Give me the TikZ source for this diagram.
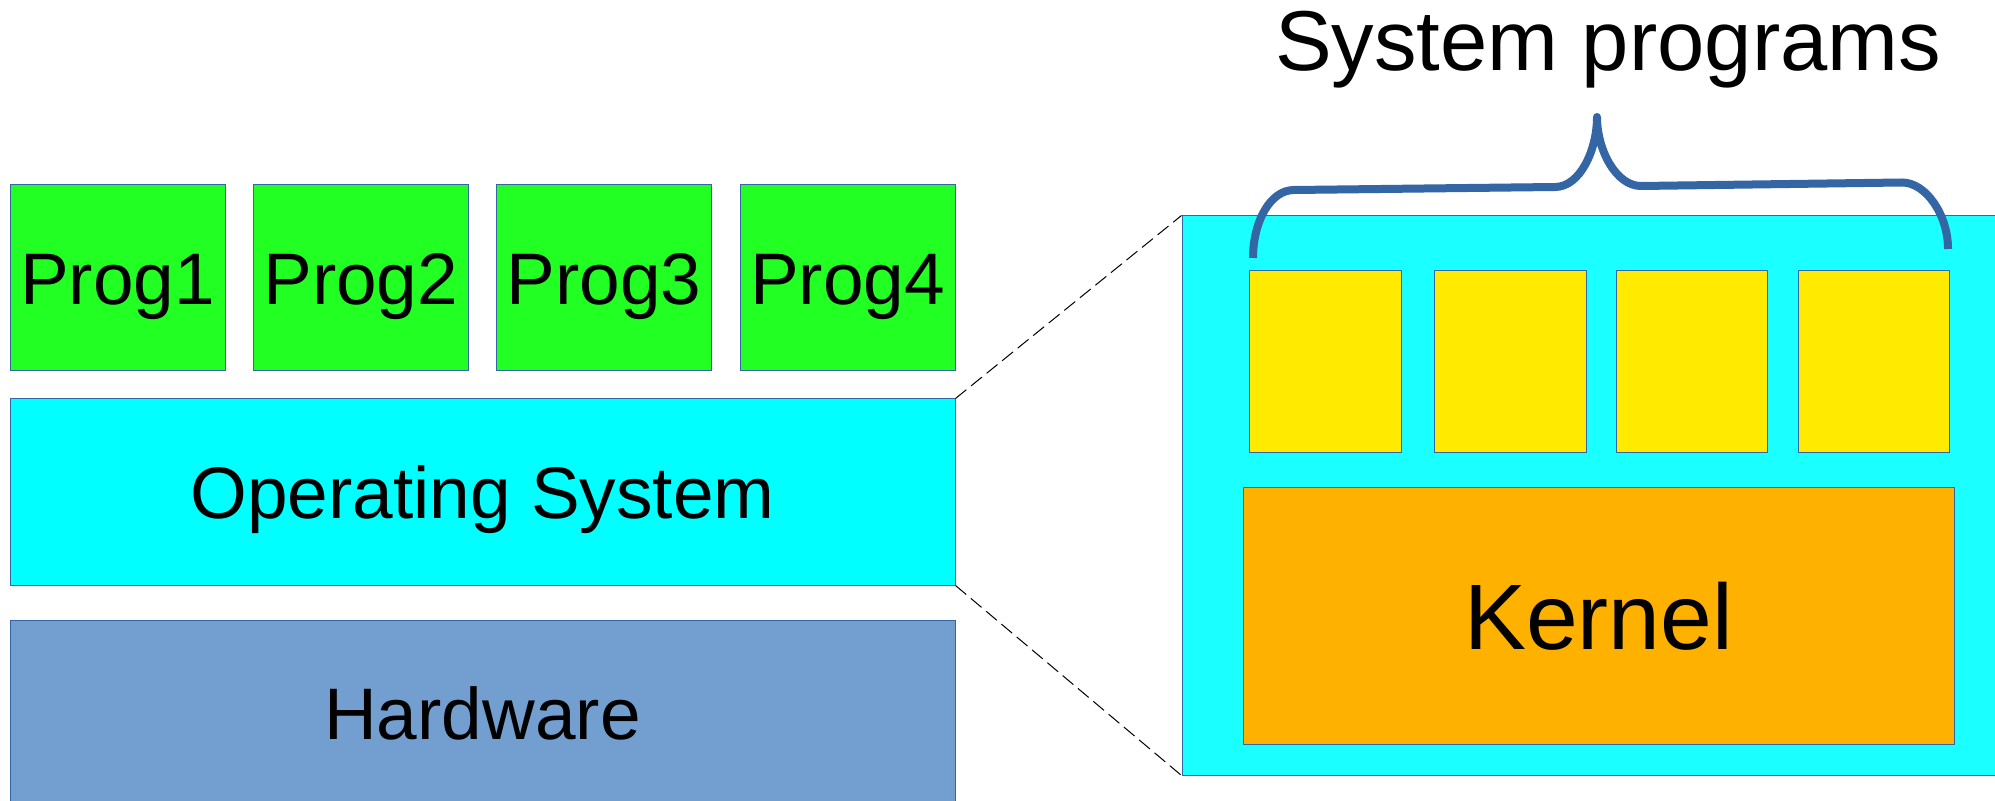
\documentclass[tikz,border=0pt]{standalone}
\usepackage{fontspec}
\setmainfont{Liberation Sans}
\definecolor{progfill}{HTML}{22FF22}
\definecolor{osfill}{HTML}{00FFFF}
\definecolor{viewfill}{HTML}{1AFFFF}
\definecolor{hwfill}{HTML}{729FCF}
\definecolor{sysfill}{HTML}{FFEA00}
\definecolor{kernfill}{HTML}{FFB100}
\definecolor{edge}{HTML}{3465A4}
\tikzset{
  layer/.style={draw=edge, line width=0.5pt, rectangle, inner sep=0pt,
    text height=26.1pt, text depth=0pt,
    font=\fontsize{36.5}{40}\selectfont},
  progbox/.style={layer, fill=progfill, minimum width=107.5pt, minimum height=93pt},
  widebox/.style={layer, minimum width=472.5pt, minimum height=93pt},
  sysbox/.style={layer, fill=sysfill, minimum width=75.75pt, minimum height=91pt},
  zoomline/.style={dashed, dash pattern=on 7pt off 3pt, line width=0.5pt, black},
  bracket/.style={draw=edge, line width=4pt, line join=round, line cap=butt}
}
\begin{document}
\begin{tikzpicture}[x=0.5pt, y=-0.5pt]
  \clip (0,0) rectangle (1995,801);
  \fill[white] (0,0) rectangle (1995,801);

  % application programs
  \node[progbox] (p1) at (117.5,278) {Prog1};
  \node[progbox] (p2) at (360.8,278) {Prog2};
  \node[progbox] (p3) at (604.2,278) {Prog3};
  \node[progbox] (p4) at (847.5,278) {Prog4};

  % layers
  \node[widebox, fill=osfill] (os) at (482.5,492) {Operating System};
  \node[widebox, fill=hwfill] (hw) at (482.5,713) {Hardware};

  % enlarged operating system
  \node[layer, fill=viewfill, minimum width=414pt, minimum height=279.5pt] (view) at (1596,495.5) {};
  \node[sysbox] (s1) at (1325.7,362) {};
  \node[sysbox] (s2) at (1510.6,362) {};
  \node[sysbox] (s3) at (1691.8,362) {};
  \node[sysbox] (s4) at (1873.9,362) {};
  \node[layer, fill=kernfill, minimum width=355.5pt, minimum height=128.5pt,
        text height=33.3pt, font=\fontsize{46.5}{50}\selectfont] (kern) at (1598.5,616.3) {Kernel};

  % zoom guides
  \draw[zoomline] (os.north east) -- (view.north west);
  \draw[zoomline] (os.south east) -- (view.south west);

  % brace over the system programs
  \draw[bracket] (1253,258) .. controls (1253,222) and (1270,190) .. (1294,190)
    -- (1555,187) .. controls (1580,187) and (1597,150) .. (1597,117)
    .. controls (1597,150) and (1616,186) .. (1641,186)
    -- (1902,182.5) .. controls (1926,182.5) and (1948,215) .. (1948,249);
  \node[anchor=base, inner sep=0pt, font=\fontsize{42.5}{46}\selectfont] (label) at (1608,71) {System programs};
\end{tikzpicture}
\end{document}
